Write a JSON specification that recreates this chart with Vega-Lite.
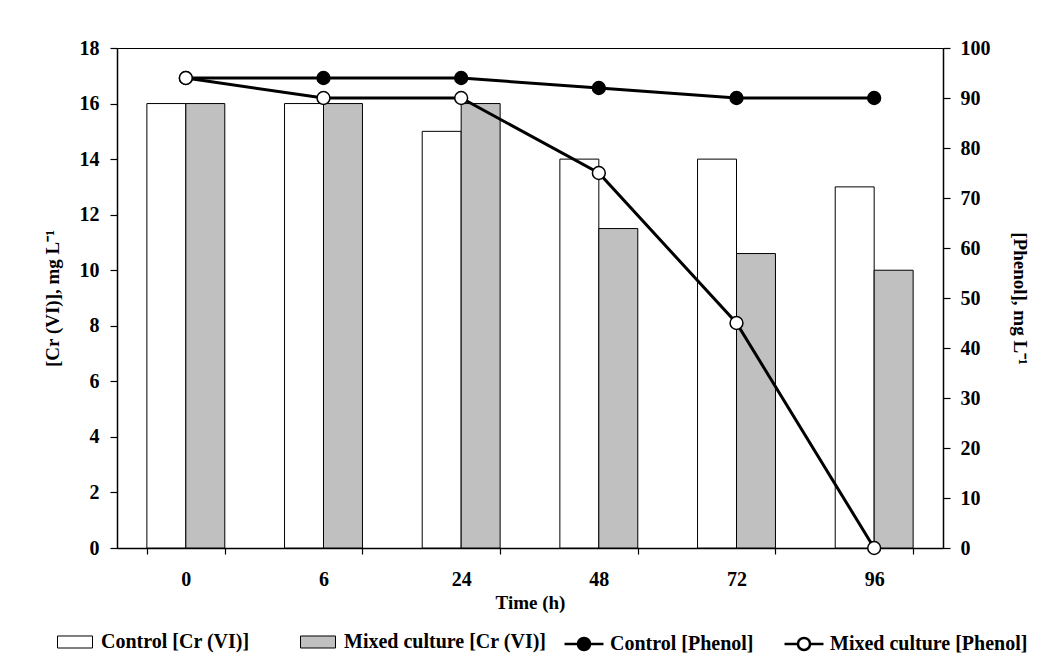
{
  "$schema": "https://vega.github.io/schema/vega-lite/v6.json",
  "width": 826,
  "height": 500,
  "autosize": {"type": "none"},
  "padding": {"left": 117, "top": 48, "right": 108, "bottom": 112},
  "background": "white",
  "config": {
    "font": "Liberation Serif",
    "view": {"stroke": "black", "strokeWidth": 1},
    "axis": {
      "labelFont": "Liberation Serif",
      "labelFontWeight": "bold",
      "labelFontSize": 20,
      "labelColor": "black",
      "titleFont": "Liberation Serif",
      "titleFontWeight": "bold",
      "titleFontSize": 19,
      "titleColor": "black",
      "domainColor": "black",
      "domainWidth": 1.5,
      "tickColor": "black",
      "tickWidth": 1.2,
      "grid": false
    },
    "legend": {
      "labelFont": "Liberation Serif",
      "labelFontWeight": "bold",
      "labelFontSize": 20,
      "labelColor": "black",
      "labelLimit": 0,
      "padding": 0
    }
  },
  "datasets": {
    "cr": [
      {"time": "0", "series": "Control [Cr (VI)]", "value": 16},
      {"time": "6", "series": "Control [Cr (VI)]", "value": 16},
      {"time": "24", "series": "Control [Cr (VI)]", "value": 15},
      {"time": "48", "series": "Control [Cr (VI)]", "value": 14},
      {"time": "72", "series": "Control [Cr (VI)]", "value": 14},
      {"time": "96", "series": "Control [Cr (VI)]", "value": 13},
      {"time": "0", "series": "Mixed culture [Cr (VI)]", "value": 16},
      {"time": "6", "series": "Mixed culture [Cr (VI)]", "value": 16},
      {"time": "24", "series": "Mixed culture [Cr (VI)]", "value": 16},
      {"time": "48", "series": "Mixed culture [Cr (VI)]", "value": 11.5},
      {"time": "72", "series": "Mixed culture [Cr (VI)]", "value": 10.6},
      {"time": "96", "series": "Mixed culture [Cr (VI)]", "value": 10}
    ],
    "phenol": [
      {"time": "0", "series": "Control [Phenol]", "value": 94},
      {"time": "6", "series": "Control [Phenol]", "value": 94},
      {"time": "24", "series": "Control [Phenol]", "value": 94},
      {"time": "48", "series": "Control [Phenol]", "value": 92},
      {"time": "72", "series": "Control [Phenol]", "value": 90},
      {"time": "96", "series": "Control [Phenol]", "value": 90},
      {"time": "0", "series": "Mixed culture [Phenol]", "value": 94},
      {"time": "6", "series": "Mixed culture [Phenol]", "value": 90},
      {"time": "24", "series": "Mixed culture [Phenol]", "value": 90},
      {"time": "48", "series": "Mixed culture [Phenol]", "value": 75},
      {"time": "72", "series": "Mixed culture [Phenol]", "value": 45},
      {"time": "96", "series": "Mixed culture [Phenol]", "value": 0}
    ]
  },
  "layer": [
    {
      "data": {"name": "cr"},
      "mark": {"type": "bar", "stroke": "black", "strokeWidth": 1},
      "encoding": {
        "x": {
          "field": "time",
          "type": "nominal",
          "sort": ["0", "6", "24", "48", "72", "96"],
          "scale": {"paddingInner": 0.434, "paddingOuter": 0.217},
          "axis": {
            "title": "Time (h)",
            "labelAngle": 0,
            "tickBand": "extent",
            "tickSize": 6,
            "labelPadding": 15,
            "titlePadding": 4
          }
        },
        "xOffset": {
          "field": "series",
          "type": "nominal",
          "sort": ["Control [Cr (VI)]", "Mixed culture [Cr (VI)]"],
          "scale": {"paddingInner": 0, "paddingOuter": 0}
        },
        "y": {
          "field": "value",
          "type": "quantitative",
          "scale": {"domain": [0, 18], "nice": false},
          "axis": {
            "title": "[Cr (VI)], mg L⁻¹",
            "values": [0, 2, 4, 6, 8, 10, 12, 14, 16, 18],
            "tickSize": 7,
            "labelPadding": 11,
            "titlePadding": 17
          }
        },
        "fill": {
          "field": "series",
          "type": "nominal",
          "scale": {
            "domain": ["Control [Cr (VI)]", "Mixed culture [Cr (VI)]"],
            "range": ["#ffffff", "#c0c0c0"]
          },
          "legend": {
            "title": null,
            "orient": "none",
            "direction": "horizontal",
            "legendX": -60,
            "legendY": 576,
            "symbolType": "M-1,-0.343H1V0.343H-1Z",
            "symbolSize": 1225,
            "symbolStrokeColor": "black",
            "symbolStrokeWidth": 1,
            "labelOffset": 8,
            "columnPadding": 48
          }
        }
      }
    },
    {
      "data": {"name": "phenol"},
      "encoding": {
        "x": {
          "field": "time",
          "type": "nominal",
          "sort": ["0", "6", "24", "48", "72", "96"],
          "axis": {"title": "Time (h)"}
        },
        "y": {
          "field": "value",
          "type": "quantitative",
          "scale": {"domain": [0, 100], "nice": false},
          "axis": {
            "orient": "right",
            "title": "[Phenol], mg L⁻¹",
            "values": [0, 10, 20, 30, 40, 50, 60, 70, 80, 90, 100],
            "tickSize": 7,
            "labelPadding": 10,
            "titlePadding": 19
          }
        }
      },
      "layer": [
        {
          "mark": {"type": "line", "stroke": "black", "strokeWidth": 3},
          "encoding": {"detail": {"field": "series"}}
        },
        {
          "mark": {"type": "point", "shape": "circle", "filled": true, "size": 165, "stroke": "black", "strokeWidth": 1.5, "opacity": 1},
          "encoding": {
            "fill": {
              "field": "series",
              "type": "nominal",
              "scale": {
                "domain": ["Control [Phenol]", "Mixed culture [Phenol]"],
                "range": ["#000000", "#ffffff"]
              },
              "legend": {
                "title": null,
                "orient": "none",
                "direction": "horizontal",
                "legendX": 446,
                "legendY": 574.5,
                "symbolType": "M-1,0H-0.31M0.31,0H1M0.31,0A0.31,0.31 0 1 1 -0.31,0A0.31,0.31 0 1 1 0.31,0Z",
                "symbolSize": 1521,
                "symbolStrokeColor": "black",
                "symbolStrokeWidth": 2.5,
                "symbolOpacity": 1,
                "labelOffset": 5,
                "columnPadding": 25
              }
            }
          }
        }
      ]
    }
  ],
  "resolve": {"scale": {"y": "independent", "fill": "independent"}}
}
